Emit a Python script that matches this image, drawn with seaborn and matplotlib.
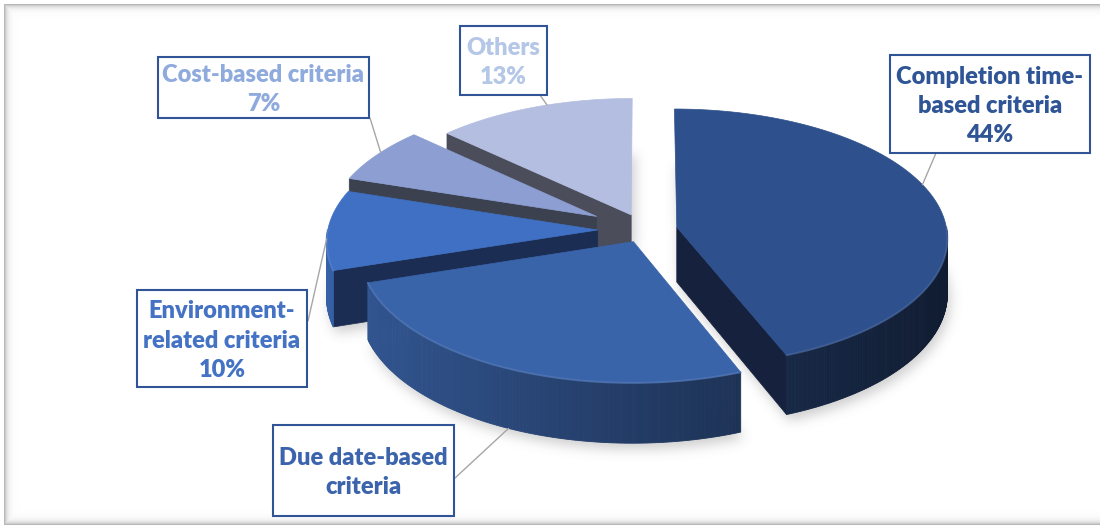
import numpy as np
import matplotlib
matplotlib.use("Agg")
import matplotlib.pyplot as plt
from matplotlib.patches import Polygon, Rectangle
from matplotlib.path import Path
from matplotlib.colors import to_rgb
import seaborn as sns

# ---- data ----
categories = ["Completion time-\nbased criteria", "Due date-based\ncriteria",
              "Environment-\nrelated criteria", "Cost-based criteria", "Others"]
shares = [44, 26, 10, 7, 13]
show_share = [True, False, True, True, True]

# ---- style ----
top_colors = ["#2E508C", "#3A64AA", "#3F70C3", "#8C9ED2", "#B4BEE1"]
face_colors = ["#15213D", "#1A2B4E", "#1B2D52", "#3C4150", "#4B4E5A"]
label_colors = ["#2F5597", "#3B64AD", "#4472C4", "#8FAADC", "#B4C7E7"]
explode = [0.12, 0.10, 0.175, 0.21, 0.13]

# label box: (left, top, width, height), anchor angle on rim, rim level, box attach point
label_layout = [
    ((890, 55, 200, 98), 70, 0, (936, 153)),
    ((273, 425, 181, 91), 205, 1, (455, 478)),
    ((137, 290, 170, 97), 266, 0, (308, 321)),
    ((158, 57, 211, 61), 302, 0, (370, 118)),
    ((460, 26, 87, 69), 340, 0, (540, 95)),
]

W, H = 1100, 528
sns.set_theme(style="white")
plt.rcParams["font.family"] = ["Lato", "DejaVu Sans"]

fig = plt.figure(figsize=(W / 100, H / 100), dpi=100)
ax = fig.add_axes([0, 0, 1, 1])
ax.set_xlim(0, W)
ax.set_ylim(H, 0)
ax.axis("off")

CX, CY, RX, RY, THICK, PERSP = 645, 230, 270, 128, 55, 0.08


def project(u, v, h):
    f = 1.0 / (1.0 + PERSP * v)
    return CX + RX * u * f, CY + (-RY * v + THICK * h) * f


total = float(sum(shares))
bounds = np.concatenate([[0], np.cumsum(shares)]) / total * 360.0
slices = []
for i in range(len(shares)):
    a, b = bounds[i], bounds[i + 1]
    m = np.radians((a + b) / 2)
    ou, ov = explode[i] * np.sin(m), explode[i] * np.cos(m)
    slices.append(dict(a=a, b=b, ou=ou, ov=ov, mid=(a + b) / 2))


def rim_pt(s, deg, h=0, r=1.0):
    t = np.radians(deg)
    return project(s["ou"] + r * np.sin(t), s["ov"] + r * np.cos(t), h)


def apex(s, h=0):
    return project(s["ou"], s["ov"], h)


def arc(s, a, b, h=0):
    n = max(int(abs(b - a) * 2), 2)
    return [rim_pt(s, d, h) for d in np.linspace(a, b, n)]


def mix(c1, c2, t):
    c1, c2 = np.array(to_rgb(c1)), np.array(to_rgb(c2))
    return tuple(c1 * (1 - t) + c2 * t)


# ---- frame inner shadow ----
yy, xx = np.mgrid[0:H, 0:W] + 0.5
x0, y0, y1 = 4.0, 4.0, 525.0
inside = (xx > x0) & (yy > y0) & (yy < y1)
d = np.minimum(np.minimum(xx - x0, yy - y0), y1 - yy)
frame_alpha = np.where(inside, 0.75 * np.exp(-d / 2.8), 0.0)
frame_img = np.zeros((H, W, 4))
frame_img[..., :3] = 0.55
frame_img[..., 3] = frame_alpha
ax.imshow(frame_img, extent=(0, W, H, 0), zorder=0, interpolation="bilinear")

# ---- soft shadow under the pie ----
pts = np.column_stack([xx.ravel(), yy.ravel()])
mask = np.zeros(H * W, bool)
for s in slices:
    poly = [apex(s, 1)] + arc(s, s["a"], s["b"], 1)
    poly = [(px + 3, py + 6) for px, py in poly]
    mask |= Path(poly).contains_points(pts)
mask = mask.reshape(H, W).astype(float)
k = np.exp(-0.5 * (np.arange(-18, 19) / 6.0) ** 2)
k /= k.sum()
blur = np.apply_along_axis(lambda r: np.convolve(r, k, mode="same"), 1, mask)
blur = np.apply_along_axis(lambda c: np.convolve(c, k, mode="same"), 0, blur)
shadow = np.zeros((H, W, 4))
shadow[..., :3] = 0.45
shadow[..., 3] = 0.35 * blur
ax.imshow(shadow, extent=(0, W, H, 0), zorder=1, interpolation="bilinear")

# ---- slices, back to front ----
order = sorted(range(len(slices)), key=lambda i: -np.cos(np.radians(slices[i]["mid"])))
z = 2
for i in order:
    s = slices[i]
    a, b = s["a"], s["b"]
    top = top_colors[i]
    # radial cut faces
    if np.sin(np.radians(a)) < -1e-6:
        poly = [apex(s, 0), rim_pt(s, a, 0), rim_pt(s, a, 1), apex(s, 1)]
        ax.add_patch(Polygon(poly, closed=True, fc=face_colors[i], ec=face_colors[i], lw=0.5, zorder=z))
    if np.sin(np.radians(b)) > 1e-6:
        poly = [apex(s, 0), rim_pt(s, b, 0), rim_pt(s, b, 1), apex(s, 1)]
        ax.add_patch(Polygon(poly, closed=True, fc=face_colors[i], ec=face_colors[i], lw=0.5, zorder=z))
    # outer wall, shaded along the arc
    wa, wb = max(a, 90.0), min(b, 270.0)
    if wb > wa:
        edges = np.linspace(wa, wb, max(int((wb - wa) * 2), 2))
        for d1, d2 in zip(edges[:-1], edges[1:]):
            t = (1 + np.sin(np.radians((d1 + d2) / 2))) / 2
            fac = 0.86 - 0.52 * t
            col = tuple(np.array(to_rgb(top)) * fac)
            quad = [rim_pt(s, d1, 0), rim_pt(s, d2, 0), rim_pt(s, d2, 1), rim_pt(s, d1, 1)]
            ax.add_patch(Polygon(quad, closed=True, fc=col, ec=col, lw=0.6, zorder=z + 0.1))
    # top surface
    poly = [apex(s, 0)] + arc(s, a, b, 0)
    ax.add_patch(Polygon(poly, closed=True, fc=top, ec=top, lw=0.5, zorder=z + 0.2))
    # soft rim highlight on the front edge
    if wb > wa:
        hl = arc(s, wa, wb, 0)
        hx, hy = zip(*hl)
        ax.plot(hx, hy, color=mix(top, "white", 0.15), lw=1.4, alpha=0.6,
                solid_capstyle="round", zorder=z + 0.3)
    z += 1

# ---- labels ----
for i, (box, ang, lvl, attach) in enumerate(label_layout):
    s = slices[i]
    left, topy, bw, bh = box
    rx_, ry_ = rim_pt(s, ang, lvl)
    ax.plot([attach[0], rx_], [attach[1], ry_], color="#A6A6A6", lw=1.0, zorder=20)
    ax.add_patch(Rectangle((left, topy), bw, bh, fc="white", ec="#2F5597", lw=1.5, zorder=21))
    lines = categories[i].split("\n")
    if show_share[i]:
        lines.append(f"{shares[i]}%")
    cy = topy + bh / 2
    step = 29.5
    for j, ln in enumerate(lines):
        ty = cy + (j - (len(lines) - 1) / 2) * step
        ax.text(left + bw / 2, ty, ln, ha="center", va="center_baseline",
                fontsize=17, fontweight="heavy", color=label_colors[i], zorder=22)

fig.savefig("out.png", dpi=100, facecolor="white")
